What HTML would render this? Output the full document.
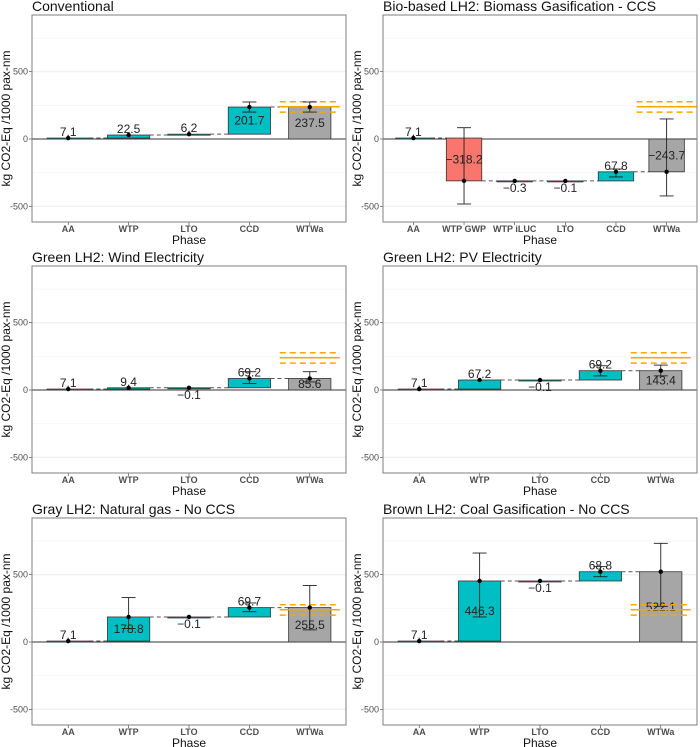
<!DOCTYPE html>
<html><head><meta charset="utf-8">
<style>
html,body{margin:0;padding:0;background:#fff;}
svg{display:block;font-family:"Liberation Sans",Arial,sans-serif;}
</style></head>
<body>
<svg id="chart" width="700" height="747" viewBox="0 0 700 747"></svg>
<script>
const panelTitles = ["Conventional","Bio-based LH2: Biomass Gasification - CCS","Green LH2: Wind Electricity","Green LH2: PV Electricity","Gray LH2: Natural gas - No CCS","Brown LH2: Coal Gasification - No CCS"];
const cats5 = ["AA","WTP","LTO","CCD","WTWa"];
const catsBio = ["AA","WTP GWP","WTP iLUC","LTO","CCD","WTWa"];
const valsConv = [7.1,22.5,6.2,201.7,237.5];
const valsBio = [7.1,-318.2,-0.3,-0.1,67.8,-243.7];
const valsWind = [7.1,9.4,-0.1,69.2,85.6];
const valsPV = [7.1,67.2,-0.1,69.2,143.4];
const valsGray = [7.1,178.8,-0.1,69.7,255.5];
const valsBrown = [7.1,446.3,-0.1,68.8,522.1];
const errLoConv = [null,null,null,200,200];
const errHiConv = [null,null,null,275,275];
const errLoBio = [null,-483,null,null,-282,-423];
const errHiBio = [null,84,null,null,-223,149];
const errLoWind = [null,null,null,49,60];
const errHiWind = [null,null,null,136,136];
const errLoPV = [null,null,null,105,105];
const errHiPV = [null,null,null,180,185];
const errLoGray = [null,100,null,225,90];
const errHiGray = [null,330,null,290,420];
const errLoBrown = [null,186,null,485,265];
const errHiBrown = [null,661,null,560,733];
const refLine = [200,240,277];
const yTicks = [-500,0,500];
const yMinor = [-250,250,750];

const panels = [
 {t:panelTitles[0],c:cats5,v:valsConv,lo:errLoConv,hi:errHiConv},
 {t:panelTitles[1],c:catsBio,v:valsBio,lo:errLoBio,hi:errHiBio},
 {t:panelTitles[2],c:cats5,v:valsWind,lo:errLoWind,hi:errHiWind},
 {t:panelTitles[3],c:cats5,v:valsPV,lo:errLoPV,hi:errHiPV},
 {t:panelTitles[4],c:cats5,v:valsGray,lo:errLoGray,hi:errHiGray},
 {t:panelTitles[5],c:cats5,v:valsBrown,lo:errLoBrown,hi:errHiBrown}
];
const NS="http://www.w3.org/2000/svg";
const svg=document.getElementById('chart');
function mk(tag,attrs,parent,text){const e=document.createElementNS(NS,tag);for(const k in attrs)e.setAttribute(k,attrs[k]);if(text!==undefined)e.textContent=text;(parent||svg).appendChild(e);return e;}
const colX=[32,383], rowY=[15,266,518], W=314, H=207, ZOFF=124, SC=67.3/500;

panels.forEach((p,pi)=>{
  const x0=colX[pi%2], y0=rowY[Math.floor(pi/2)];
  const g=mk('g',{});
  
  
  const Y=v=>y0+ZOFF-v*SC;
  const n=p.c.length, step=W/(n-1+1.2);
  const X=i=>x0+0.6*step+i*step;
  const bw=step*0.7;
  // title
  const tt=mk('text',{x:x0,y:y0-4,'font-size':14,fill:'#111'},g,p.t);
  
  
  // grid
  yMinor.forEach(v=>{const l=mk('line',{x1:x0,x2:x0+W,y1:Y(v),y2:Y(v),stroke:'#f2f2f2','stroke-width':0.6},g);});
  yTicks.forEach(v=>{const l=mk('line',{x1:x0,x2:x0+W,y1:Y(v),y2:Y(v),stroke:'#ebebeb','stroke-width':1},g);
    const t=mk('text',{x:x0-4,y:Y(v)+3,'font-size':9,fill:'#4d4d4d','text-anchor':'end'},g,String(v));
    mk('line',{x1:x0-3,x2:x0,y1:Y(v),y2:Y(v),stroke:'#333','stroke-width':0.6},g);});
  p.c.forEach((c,i)=>{const t=mk('text',{x:X(i),y:y0+H+10,'font-size':9,'font-weight':'bold',fill:'#4d4d4d','text-anchor':'middle'},g,c);
    mk('line',{x1:X(i),x2:X(i),y1:y0+H,y2:y0+H+3,stroke:'#333','stroke-width':0.6},g);});
  const xt=mk('text',{x:x0+W/2,y:y0+H+22,'font-size':12,fill:'#111','text-anchor':'middle'},g,'Phase');
  
  const yx=x0-22, yy=y0+H/2;
  const yt=mk('text',{x:yx,y:yy,'font-size':12,fill:'#111','text-anchor':'middle',transform:`rotate(-90 ${yx} ${yy})`},g,'kg CO2-Eq /1000 pax-nm');
  
  // zero line
  mk('line',{x1:x0,x2:x0+W,y1:Y(0),y2:Y(0),stroke:'#333','stroke-width':1},g);
  // bars
  let cum=0;
  const ends=[];
  p.v.forEach((v,i)=>{
    const total=i===n-1;
    const s=total?0:cum, e=total?v:cum+v;
    if(!total)cum=e;
    ends.push(e);
    const fill=total?'#a6a6a6':(v<-100?'#f8766d':'#00bfc4');
    const r=mk('rect',{x:X(i)-bw/2,y:Math.min(Y(s),Y(e)),width:bw,height:Math.max(Math.abs(Y(s)-Y(e)),1),fill:fill,stroke:'#333','stroke-width':0.8},g);
    
    
    if(i<n-1){const nx=X(i+1)-bw/2;const d=mk('line',{x1:X(i)+bw/2,x2:nx,y1:Y(e),y2:Y(e),stroke:'#555','stroke-width':1,'stroke-dasharray':'4 3'},g);}
    // label
    let ly, big=total||Math.abs(v)>=150;
    if(big) ly=Y((s+e)/2)+4;
    else if(v>=0) ly=Y(e)-2;
    else ly=Y(e)+11;
    const lt=mk('text',{x:X(i),y:ly,'font-size':12,fill:'#222','text-anchor':'middle'},g,(v<0?'\u2212'+Math.abs(v).toFixed(1):v.toFixed(1)));
    
  });
  // reference lines at total
  const tx=X(n-1);
  refLine.forEach((v,k)=>{const l=mk('line',{x1:tx-30,x2:tx+30,y1:Y(v),y2:Y(v),stroke:'#f5a800','stroke-width':1.5,'stroke-dasharray':k===1?'':'6 4'},g);});
  // error bars and points
  ends.forEach((e,i)=>{
    if(p.lo[i]!==null){const lo=p.lo[i],hi=p.hi[i];
      const eb=mk('g',{},g);
      mk('line',{x1:X(i),x2:X(i),y1:Y(lo),y2:Y(hi),stroke:'#222','stroke-width':0.9},eb);
      mk('line',{x1:X(i)-7,x2:X(i)+7,y1:Y(lo),y2:Y(lo),stroke:'#222','stroke-width':0.9},eb);
      mk('line',{x1:X(i)-7,x2:X(i)+7,y1:Y(hi),y2:Y(hi),stroke:'#222','stroke-width':0.9},eb);}
    const pt=mk('circle',{cx:X(i),cy:Y(e),r:2.2,fill:'#000'},g);
  });
  const b=mk('rect',{x:x0,y:y0,width:W,height:H,fill:'none',stroke:'#7f7f7f','stroke-width':1},g);
  
});
</script>
</body></html>
